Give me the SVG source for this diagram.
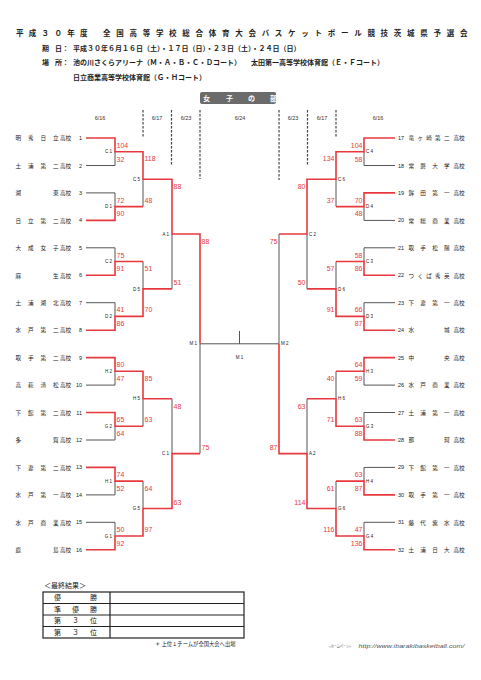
<svg xmlns="http://www.w3.org/2000/svg" width="481" height="680" viewBox="0 0 481 680">
<style>
.bg{fill:#fff}
.ln{fill:none;stroke-linecap:butt;stroke-linejoin:miter}
.g{stroke:#555;stroke-width:1}
.r{stroke:#e8383d;stroke-width:1.6}
.dash{stroke:#444;stroke-width:1.2;stroke-dasharray:2.5 1.5;fill:none}
.sc{font-family:"Liberation Sans",Arial,sans-serif;font-size:7px;fill:#e8383d}
.se{text-anchor:end}
.lb{font-family:"Liberation Sans",Arial,sans-serif;font-size:4.5px;fill:#222}
.tn{font-family:"Noto Sans CJK JP","Noto Sans CJK SC",sans-serif;font-size:5.6px;fill:#222}
.num{font-family:"Liberation Sans",Arial,sans-serif;font-size:5.5px;fill:#222}
.hd{font-family:"Noto Sans CJK JP","Noto Sans CJK SC",sans-serif;font-weight:bold;fill:#222}
.dt{font-family:"Liberation Sans",Arial,sans-serif;font-size:5.5px;fill:#333;text-anchor:middle}
.jp{font-family:"Noto Sans CJK JP","Noto Sans CJK SC",sans-serif;fill:#222}
.tb{fill:none;stroke:#222;stroke-width:1.2}
</style>
<rect class="bg" x="0" y="0" width="481" height="680"/>

<g id="header">
<text class="hd" x="16" y="35.5" font-size="7.5" letter-spacing="5.3">平成３０年度</text>
<text class="hd" x="103" y="35.5" font-size="7.5" letter-spacing="5.72">全国高等学校総合体育大会バスケットボール競技茨城県予選会</text>
<text class="hd" x="42" y="50.5" font-size="7">期</text>
<text class="hd" x="55" y="50.5" font-size="7">日</text>
<text class="hd" x="62" y="50.5" font-size="7">：</text>
<text class="hd" x="73" y="50.5" font-size="7">平成３０年６月１６日（土）・１７日（日）・２３日（土）・２４日（日）</text>
<text class="hd" x="42" y="64.5" font-size="7">場</text>
<text class="hd" x="55" y="64.5" font-size="7">所</text>
<text class="hd" x="62" y="64.5" font-size="7">：</text>
<text class="hd" x="73" y="64.5" font-size="7">池の川さくらアリーナ（Ｍ・Ａ・Ｂ・Ｃ・Ｄコート）</text>
<text class="hd" x="251" y="64.5" font-size="7">太田第一高等学校体育館（Ｅ・Ｆコート）</text>
<text class="hd" x="73" y="79.5" font-size="7">日立商業高等学校体育館（Ｇ・Ｈコート）</text>
</g>

<g id="banner">
<rect x="200" y="92" width="76" height="12" rx="2" fill="#6b6b6b"/>
<text class="hd" x="203 226 248 270" y="100.5" font-size="7" style="fill:#fff">女子の部</text>
</g>

<g id="dates">
<text class="dt" x="100" y="119.5">6/16</text>
<text class="dt" x="157" y="119.5">6/17</text>
<text class="dt" x="186" y="119.5">6/23</text>
<text class="dt" x="240" y="119.5">6/24</text>
<text class="dt" x="293" y="119.5">6/23</text>
<text class="dt" x="322" y="119.5">6/17</text>
<text class="dt" x="378" y="119.5">6/16</text>
<path class="dash" d="M143 110V137M171.5 110V166M200 110V179M279 110V180M307.5 110V166M336 110V137"/>
</g>

<g id="connectors">
<path class="ln g" d="M86 165.5H115M86 192.9H115M86 247.8H115M86 302.7H115M86 385.1H115M86 440H115M86 494.9H115M86 522.3H115
M115 151.7V165.5M115 192.9V206.6M115 247.8V261.5M115 302.7V316.4M115 371.3V385.1M115 426.2V440M115 481.1V494.9M115 522.3V536
M143 179.2V206.6M143 261.5V288.9M143 398.8V426.2M143 481.1V508.5
M172 234V288.9M172 398.8V453.6M200 343.8V453.6
M200 343.8H279M239.5 331V343.8
M395 165.5H364M395 220.4H364M395 247.8H364M395 302.7H364M395 385.1H364M395 412.5H364M395 467.4H364M395 522.3H364
M364 151.7V165.5M364 206.6V220.4M364 247.8V261.5M364 302.7V316.4M364 371.3V385.1M364 412.5V426.2M364 467.4V481.1M364 522.3V536
M336 179.2V206.6M336 261.5V288.9M336 371.3V398.8M336 481.1V508.5
M307 234V288.9M307 398.8V453.6M279 234V343.8"/>
<path class="ln r" d="M86 138H115V151.7H143V179.2H172V234H200V343.8
M86 220.4H115V206.6H143
M86 275.3H115V261.5H143
M86 330.2H115V316.4H143V288.9H172
M86 357.6H115V371.3H143V398.8H172
M86 412.5H115V426.2H143
M86 467.4H115V481.1H143
M86 549.8H115V536H143V508.5H172V453.6H200
M395 138H364V151.7H336V179.2H307V234H279
M395 192.9H364V206.6H336
M395 275.3H364V261.5H336
M395 330.2H364V316.4H336V288.9H307
M395 357.6H364V371.3H336
M395 440H364V426.2H336V398.8H307
M395 494.9H364V481.1H336
M395 549.8H364V536H336V508.5H307V453.6H279V343.8"/>
</g>

<g id="match-labels" class="lb">
<text x="112" y="153.3" text-anchor="end">C 1</text>
<text x="112" y="208.2" text-anchor="end">D 1</text>
<text x="112" y="263.1" text-anchor="end">C 2</text>
<text x="112" y="318" text-anchor="end">D 2</text>
<text x="112" y="372.9" text-anchor="end">H 2</text>
<text x="112" y="427.8" text-anchor="end">G 2</text>
<text x="112" y="482.7" text-anchor="end">H 1</text>
<text x="112" y="537.6" text-anchor="end">G 1</text>
<text x="140" y="180.8" text-anchor="end">C 5</text>
<text x="140" y="290.5" text-anchor="end">D 5</text>
<text x="140" y="400.4" text-anchor="end">H 5</text>
<text x="140" y="510.1" text-anchor="end">G 5</text>
<text x="169" y="235.6" text-anchor="end">A 1</text>
<text x="169" y="455.2" text-anchor="end">C 1</text>
<text x="197" y="345.4" text-anchor="end">M 1</text>
<text x="239.5" y="358.5" text-anchor="middle">M 1</text>
<text x="366" y="153.3">C 4</text>
<text x="366" y="208.2">D 4</text>
<text x="366" y="263.1">C 3</text>
<text x="366" y="318">D 3</text>
<text x="366" y="372.9">H 3</text>
<text x="366" y="427.8">G 3</text>
<text x="366" y="482.7">H 4</text>
<text x="366" y="537.6">G 4</text>
<text x="338" y="180.8">C 6</text>
<text x="338" y="290.5">D 6</text>
<text x="338" y="400.4">H 6</text>
<text x="338" y="510.1">G 6</text>
<text x="309" y="235.6">C 2</text>
<text x="309" y="455.2">A 2</text>
<text x="281" y="345.4">M 2</text>
</g>

<g id="scores" class="sc">
<text x="116.5" y="147.7">104</text><text x="116.5" y="161.5">32</text>
<text x="116.5" y="202.6">72</text><text x="116.5" y="216.4">90</text>
<text x="116.5" y="257.5">75</text><text x="116.5" y="271.3">91</text>
<text x="116.5" y="312.4">41</text><text x="116.5" y="326.2">86</text>
<text x="116.5" y="367.3">80</text><text x="116.5" y="381.1">47</text>
<text x="116.5" y="422.2">65</text><text x="116.5" y="436">64</text>
<text x="116.5" y="477.1">74</text><text x="116.5" y="490.9">52</text>
<text x="116.5" y="532">50</text><text x="116.5" y="545.8">92</text>
<text x="144.5" y="161.4">118</text><text x="144.5" y="202.6">48</text>
<text x="144.5" y="271.2">51</text><text x="144.5" y="312.4">70</text>
<text x="144.5" y="381">85</text><text x="144.5" y="422.2">63</text>
<text x="144.5" y="490.8">64</text><text x="144.5" y="532">97</text>
<text x="173.5" y="188.9">88</text><text x="173.5" y="284.9">51</text>
<text x="173.5" y="408.5">48</text><text x="173.5" y="504.5">63</text>
<text x="201.5" y="243.7">88</text><text x="201.5" y="449.6">75</text>
<g class="se">
<text x="362.5" y="147.7">104</text><text x="362.5" y="161.5">58</text>
<text x="362.5" y="202.6">70</text><text x="362.5" y="216.4">48</text>
<text x="362.5" y="257.5">58</text><text x="362.5" y="271.3">86</text>
<text x="362.5" y="312.4">66</text><text x="362.5" y="326.2">87</text>
<text x="362.5" y="367.3">64</text><text x="362.5" y="381.1">59</text>
<text x="362.5" y="422.2">63</text><text x="362.5" y="436">88</text>
<text x="362.5" y="477.1">63</text><text x="362.5" y="490.9">87</text>
<text x="362.5" y="532">47</text><text x="362.5" y="545.8">136</text>
<text x="334.5" y="161.4">134</text><text x="334.5" y="202.6">37</text>
<text x="334.5" y="271.2">57</text><text x="334.5" y="312.4">91</text>
<text x="334.5" y="381">40</text><text x="334.5" y="422.2">71</text>
<text x="334.5" y="490.8">61</text><text x="334.5" y="532">116</text>
<text x="305.5" y="188.9">80</text><text x="305.5" y="284.9">50</text>
<text x="305.5" y="408.5">63</text><text x="305.5" y="504.5">114</text>
<text x="277.5" y="243.7">75</text><text x="277.5" y="449.6">87</text>
</g>
</g>

<g id="team-1"><text class="tn" x="15.5 28 40.5 53" y="140.2">明秀日立</text><text class="tn" x="60" y="140.2">高校</text><text class="num" x="82" y="140" text-anchor="end">1</text></g>
<g id="team-2"><text class="tn" x="15.5 28 40.5 53" y="167.7">土浦第二</text><text class="tn" x="60" y="167.7">高校</text><text class="num" x="82" y="167.5" text-anchor="end">2</text></g>
<g id="team-3"><text class="tn" x="15.5 53" y="195.1">湖東</text><text class="tn" x="60" y="195.1">高校</text><text class="num" x="82" y="194.9" text-anchor="end">3</text></g>
<g id="team-4"><text class="tn" x="15.5 28 40.5 53" y="222.6">日立第二</text><text class="tn" x="60" y="222.6">高校</text><text class="num" x="82" y="222.4" text-anchor="end">4</text></g>
<g id="team-5"><text class="tn" x="15.5 28 40.5 53" y="250">大成女子</text><text class="tn" x="60" y="250">高校</text><text class="num" x="82" y="249.8" text-anchor="end">5</text></g>
<g id="team-6"><text class="tn" x="15.5 53" y="277.5">麻生</text><text class="tn" x="60" y="277.5">高校</text><text class="num" x="82" y="277.3" text-anchor="end">6</text></g>
<g id="team-7"><text class="tn" x="15.5 28 40.5 53" y="304.9">土浦湖北</text><text class="tn" x="60" y="304.9">高校</text><text class="num" x="82" y="304.7" text-anchor="end">7</text></g>
<g id="team-8"><text class="tn" x="15.5 28 40.5 53" y="332.4">水戸第二</text><text class="tn" x="60" y="332.4">高校</text><text class="num" x="82" y="332.2" text-anchor="end">8</text></g>
<g id="team-9"><text class="tn" x="15.5 28 40.5 53" y="359.8">取手第二</text><text class="tn" x="60" y="359.8">高校</text><text class="num" x="82" y="359.6" text-anchor="end">9</text></g>
<g id="team-10"><text class="tn" x="15.5 28 40.5 53" y="387.3">高萩清松</text><text class="tn" x="60" y="387.3">高校</text><text class="num" x="82" y="387.1" text-anchor="end">10</text></g>
<g id="team-11"><text class="tn" x="15.5 28 40.5 53" y="414.7">下館第二</text><text class="tn" x="60" y="414.7">高校</text><text class="num" x="82" y="414.5" text-anchor="end">11</text></g>
<g id="team-12"><text class="tn" x="15.5 53" y="442.2">多賀</text><text class="tn" x="60" y="442.2">高校</text><text class="num" x="82" y="442" text-anchor="end">12</text></g>
<g id="team-13"><text class="tn" x="15.5 28 40.5 53" y="469.6">下妻第二</text><text class="tn" x="60" y="469.6">高校</text><text class="num" x="82" y="469.4" text-anchor="end">13</text></g>
<g id="team-14"><text class="tn" x="15.5 28 40.5 53" y="497.1">水戸第一</text><text class="tn" x="60" y="497.1">高校</text><text class="num" x="82" y="496.9" text-anchor="end">14</text></g>
<g id="team-15"><text class="tn" x="15.5 28 40.5 53" y="524.5">水戸商業</text><text class="tn" x="60" y="524.5">高校</text><text class="num" x="82" y="524.3" text-anchor="end">15</text></g>
<g id="team-16"><text class="tn" x="15.5 53" y="552">鹿島</text><text class="tn" x="60" y="552">高校</text><text class="num" x="82" y="551.8" text-anchor="end">16</text></g>

<g id="team-17"><text class="num" x="398" y="140">17</text><text class="tn" x="408.5 417.4 426.3 435.1 444" y="140.2">竜ヶ崎第二</text><text class="tn" x="453.5" y="140.2">高校</text></g>
<g id="team-18"><text class="num" x="398" y="167.5">18</text><text class="tn" x="408.5 420.3 432.2 444" y="167.7">常磐大学</text><text class="tn" x="453.5" y="167.7">高校</text></g>
<g id="team-19"><text class="num" x="398" y="194.9">19</text><text class="tn" x="408.5 420.3 432.2 444" y="195.1">鉾田第一</text><text class="tn" x="453.5" y="195.1">高校</text></g>
<g id="team-20"><text class="num" x="398" y="222.4">20</text><text class="tn" x="408.5 420.3 432.2 444" y="222.6">常総商業</text><text class="tn" x="453.5" y="222.6">高校</text></g>
<g id="team-21"><text class="num" x="398" y="249.8">21</text><text class="tn" x="408.5 420.3 432.2 444" y="250">取手松陽</text><text class="tn" x="453.5" y="250">高校</text></g>
<g id="team-22"><text class="num" x="398" y="277.3">22</text><text class="tn" x="408.5 417.4 426.3 435.1 444" y="277.5">つくば秀英</text><text class="tn" x="453.5" y="277.5">高校</text></g>
<g id="team-23"><text class="num" x="398" y="304.7">23</text><text class="tn" x="408.5 420.3 432.2 444" y="304.9">下妻第一</text><text class="tn" x="453.5" y="304.9">高校</text></g>
<g id="team-24"><text class="num" x="398" y="332.2">24</text><text class="tn" x="408.5 444" y="332.4">水城</text><text class="tn" x="453.5" y="332.4">高校</text></g>
<g id="team-25"><text class="num" x="398" y="359.6">25</text><text class="tn" x="408.5 444" y="359.8">中央</text><text class="tn" x="453.5" y="359.8">高校</text></g>
<g id="team-26"><text class="num" x="398" y="387.1">26</text><text class="tn" x="408.5 420.3 432.2 444" y="387.3">水戸商業</text><text class="tn" x="453.5" y="387.3">高校</text></g>
<g id="team-27"><text class="num" x="398" y="414.5">27</text><text class="tn" x="408.5 420.3 432.2 444" y="414.7">土浦第一</text><text class="tn" x="453.5" y="414.7">高校</text></g>
<g id="team-28"><text class="num" x="398" y="442">28</text><text class="tn" x="408.5 444" y="442.2">那珂</text><text class="tn" x="453.5" y="442.2">高校</text></g>
<g id="team-29"><text class="num" x="398" y="469.4">29</text><text class="tn" x="408.5 420.3 432.2 444" y="469.6">下館第一</text><text class="tn" x="453.5" y="469.6">高校</text></g>
<g id="team-30"><text class="num" x="398" y="496.9">30</text><text class="tn" x="408.5 420.3 432.2 444" y="497.1">取手第一</text><text class="tn" x="453.5" y="497.1">高校</text></g>
<g id="team-31"><text class="num" x="398" y="524.3">31</text><text class="tn" x="408.5 420.3 432.2 444" y="524.5">藤代紫水</text><text class="tn" x="453.5" y="524.5">高校</text></g>
<g id="team-32"><text class="num" x="398" y="551.8">32</text><text class="tn" x="408.5 420.3 432.2 444" y="552">土浦日大</text><text class="tn" x="453.5" y="552">高校</text></g>

<g id="results">
<text class="jp" x="44" y="588" font-size="7">＜最終結果＞</text>
<rect class="tb" x="43" y="592" width="201" height="46"/>
<path class="tb" d="M43 603.5H244M43 615H244M43 626.5H244M110 592V638"/>
<text class="jp" x="54 90" y="600.3" font-size="7">優勝</text>
<text class="jp" x="54 72 90" y="611.8" font-size="7">準優勝</text>
<text class="jp" x="54 72 90" y="623.3" font-size="7">第３位</text>
<text class="jp" x="54 72 90" y="634.8" font-size="7">第３位</text>
<text class="jp" x="155" y="645.5" font-size="5.3">＊ 上位１チームが全国大会へ出場</text>
</g>

<g id="homepage">
<text class="jp" x="329" y="648" font-size="4" style="fill:#555" textLength="22" lengthAdjust="spacingAndGlyphs">&lt;ホームページ&gt;</text>
<text x="358.5" y="648" font-family="Liberation Sans, Arial, sans-serif" font-size="5.5" font-style="italic" fill="#555" textLength="106" lengthAdjust="spacingAndGlyphs">http://www.ibarakibasketball.com/</text>
</g>
</svg>
